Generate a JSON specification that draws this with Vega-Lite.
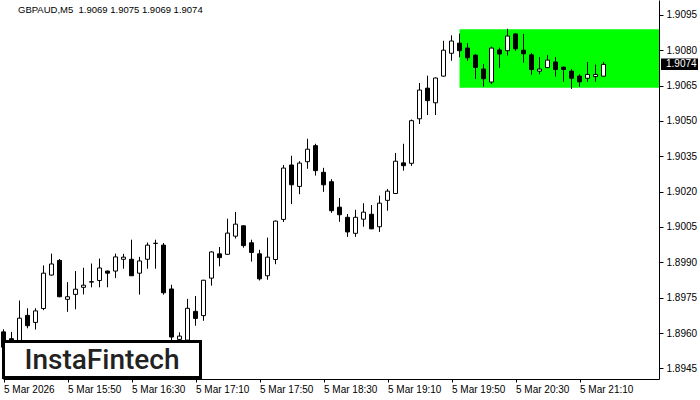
{
  "$schema": "https://vega.github.io/schema/vega-lite/v6.json",
  "width": 656,
  "height": 379,
  "autosize": {"type": "none"},
  "padding": {"left": 3, "top": 0, "right": 41, "bottom": 21},
  "background": "white",
  "config": {
    "view": {"stroke": null},
    "axis": {"labelFont": "Liberation Sans", "labelFontSize": 10, "labelColor": "#000", "domainColor": "#000", "tickColor": "#000", "grid": false, "title": null, "labelOverlap": false, "labelBound": false},
    "axisY": {"labelOverlap": false},
    "axisRight": {"labelOverlap": false}
  },
  "datasets": {
    "candles": [
      {"t": "2026-03-05T15:10:00Z", "o": 1.89605, "h": 1.89616, "l": 1.8951, "c": 1.8954},
      {"t": "2026-03-05T15:15:00Z", "o": 1.89576, "h": 1.89605, "l": 1.8955, "c": 1.89566},
      {"t": "2026-03-05T15:20:00Z", "o": 1.8955, "h": 1.89738, "l": 1.8953, "c": 1.89663},
      {"t": "2026-03-05T15:25:00Z", "o": 1.89675, "h": 1.89705, "l": 1.8962, "c": 1.89631},
      {"t": "2026-03-05T15:30:00Z", "o": 1.89645, "h": 1.89705, "l": 1.89615, "c": 1.89694},
      {"t": "2026-03-05T15:35:00Z", "o": 1.89704, "h": 1.89887, "l": 1.89697, "c": 1.89854},
      {"t": "2026-03-05T15:40:00Z", "o": 1.89846, "h": 1.89937, "l": 1.89844, "c": 1.89893},
      {"t": "2026-03-05T15:45:00Z", "o": 1.89908, "h": 1.89914, "l": 1.89752, "c": 1.89754},
      {"t": "2026-03-05T15:50:00Z", "o": 1.89743, "h": 1.89816, "l": 1.8969, "c": 1.89754},
      {"t": "2026-03-05T15:55:00Z", "o": 1.89764, "h": 1.89863, "l": 1.89701, "c": 1.89786},
      {"t": "2026-03-05T16:00:00Z", "o": 1.89794, "h": 1.89877, "l": 1.89764, "c": 1.89803},
      {"t": "2026-03-05T16:05:00Z", "o": 1.89816, "h": 1.89895, "l": 1.89794, "c": 1.89818},
      {"t": "2026-03-05T16:10:00Z", "o": 1.89823, "h": 1.89916, "l": 1.89794, "c": 1.89876},
      {"t": "2026-03-05T16:15:00Z", "o": 1.89863, "h": 1.89865, "l": 1.89794, "c": 1.89854},
      {"t": "2026-03-05T16:20:00Z", "o": 1.89863, "h": 1.89937, "l": 1.89833, "c": 1.89923},
      {"t": "2026-03-05T16:25:00Z", "o": 1.89913, "h": 1.89936, "l": 1.89873, "c": 1.89922},
      {"t": "2026-03-05T16:30:00Z", "o": 1.89913, "h": 1.89996, "l": 1.89843, "c": 1.89843},
      {"t": "2026-03-05T16:35:00Z", "o": 1.89854, "h": 1.89923, "l": 1.89763, "c": 1.89906},
      {"t": "2026-03-05T16:40:00Z", "o": 1.89913, "h": 1.89984, "l": 1.89873, "c": 1.89973},
      {"t": "2026-03-05T16:45:00Z", "o": 1.8998, "h": 1.89996, "l": 1.89873, "c": 1.89981},
      {"t": "2026-03-05T16:50:00Z", "o": 1.89973, "h": 1.89982, "l": 1.89763, "c": 1.89771},
      {"t": "2026-03-05T16:55:00Z", "o": 1.89787, "h": 1.89805, "l": 1.8955, "c": 1.89583},
      {"t": "2026-03-05T17:00:00Z", "o": 1.89573, "h": 1.89603, "l": 1.8955, "c": 1.89587},
      {"t": "2026-03-05T17:05:00Z", "o": 1.8957, "h": 1.89745, "l": 1.8954, "c": 1.89705},
      {"t": "2026-03-05T17:10:00Z", "o": 1.89692, "h": 1.89757, "l": 1.89631, "c": 1.89662},
      {"t": "2026-03-05T17:15:00Z", "o": 1.89674, "h": 1.89826, "l": 1.89652, "c": 1.89824},
      {"t": "2026-03-05T17:20:00Z", "o": 1.89833, "h": 1.89947, "l": 1.89801, "c": 1.89944},
      {"t": "2026-03-05T17:25:00Z", "o": 1.89936, "h": 1.89965, "l": 1.89883, "c": 1.8992},
      {"t": "2026-03-05T17:30:00Z", "o": 1.89934, "h": 1.90085, "l": 1.89933, "c": 1.90024},
      {"t": "2026-03-05T17:35:00Z", "o": 1.90011, "h": 1.90114, "l": 1.90001, "c": 1.90062},
      {"t": "2026-03-05T17:40:00Z", "o": 1.90055, "h": 1.90057, "l": 1.89962, "c": 1.89971},
      {"t": "2026-03-05T17:45:00Z", "o": 1.89983, "h": 1.89996, "l": 1.89903, "c": 1.89942},
      {"t": "2026-03-05T17:50:00Z", "o": 1.89936, "h": 1.89953, "l": 1.89823, "c": 1.8983},
      {"t": "2026-03-05T17:55:00Z", "o": 1.89843, "h": 1.90005, "l": 1.89826, "c": 1.89922},
      {"t": "2026-03-05T18:00:00Z", "o": 1.89912, "h": 1.90077, "l": 1.89892, "c": 1.90075},
      {"t": "2026-03-05T18:05:00Z", "o": 1.90082, "h": 1.90313, "l": 1.90071, "c": 1.903},
      {"t": "2026-03-05T18:10:00Z", "o": 1.90313, "h": 1.90352, "l": 1.90147, "c": 1.90229},
      {"t": "2026-03-05T18:15:00Z", "o": 1.90222, "h": 1.90329, "l": 1.90189, "c": 1.90321},
      {"t": "2026-03-05T18:20:00Z", "o": 1.90327, "h": 1.90424, "l": 1.90297, "c": 1.9038},
      {"t": "2026-03-05T18:25:00Z", "o": 1.90395, "h": 1.90403, "l": 1.90268, "c": 1.90289},
      {"t": "2026-03-05T18:30:00Z", "o": 1.90282, "h": 1.90301, "l": 1.90199, "c": 1.90229},
      {"t": "2026-03-05T18:35:00Z", "o": 1.90242, "h": 1.90253, "l": 1.9011, "c": 1.90119},
      {"t": "2026-03-05T18:40:00Z", "o": 1.90134, "h": 1.90173, "l": 1.90072, "c": 1.90102},
      {"t": "2026-03-05T18:45:00Z", "o": 1.90091, "h": 1.90105, "l": 1.90008, "c": 1.90029},
      {"t": "2026-03-05T18:50:00Z", "o": 1.90023, "h": 1.90123, "l": 1.90008, "c": 1.90091},
      {"t": "2026-03-05T18:55:00Z", "o": 1.90083, "h": 1.90151, "l": 1.90051, "c": 1.90113},
      {"t": "2026-03-05T19:00:00Z", "o": 1.90104, "h": 1.90143, "l": 1.90041, "c": 1.90042},
      {"t": "2026-03-05T19:05:00Z", "o": 1.90051, "h": 1.90183, "l": 1.90029, "c": 1.90151},
      {"t": "2026-03-05T19:10:00Z", "o": 1.90163, "h": 1.90211, "l": 1.90119, "c": 1.90202},
      {"t": "2026-03-05T19:15:00Z", "o": 1.90192, "h": 1.90364, "l": 1.9019, "c": 1.90329},
      {"t": "2026-03-05T19:20:00Z", "o": 1.90322, "h": 1.90403, "l": 1.90289, "c": 1.9031},
      {"t": "2026-03-05T19:25:00Z", "o": 1.9032, "h": 1.90506, "l": 1.90309, "c": 1.90501},
      {"t": "2026-03-05T19:30:00Z", "o": 1.90509, "h": 1.90661, "l": 1.90487, "c": 1.90631},
      {"t": "2026-03-05T19:35:00Z", "o": 1.90639, "h": 1.90692, "l": 1.90525, "c": 1.90586},
      {"t": "2026-03-05T19:40:00Z", "o": 1.90577, "h": 1.90684, "l": 1.90525, "c": 1.90682},
      {"t": "2026-03-05T19:45:00Z", "o": 1.9069, "h": 1.9084, "l": 1.90688, "c": 1.908},
      {"t": "2026-03-05T19:50:00Z", "o": 1.90787, "h": 1.90863, "l": 1.90755, "c": 1.90839},
      {"t": "2026-03-05T19:55:00Z", "o": 1.9083, "h": 1.9087, "l": 1.9077, "c": 1.90798},
      {"t": "2026-03-05T20:00:00Z", "o": 1.90809, "h": 1.9083, "l": 1.90755, "c": 1.90768},
      {"t": "2026-03-05T20:05:00Z", "o": 1.90779, "h": 1.90782, "l": 1.90678, "c": 1.90727},
      {"t": "2026-03-05T20:10:00Z", "o": 1.9072, "h": 1.90741, "l": 1.90645, "c": 1.90679},
      {"t": "2026-03-05T20:15:00Z", "o": 1.90665, "h": 1.90815, "l": 1.90656, "c": 1.90809},
      {"t": "2026-03-05T20:20:00Z", "o": 1.90801, "h": 1.90811, "l": 1.90725, "c": 1.90784},
      {"t": "2026-03-05T20:25:00Z", "o": 1.90798, "h": 1.90891, "l": 1.90777, "c": 1.9086},
      {"t": "2026-03-05T20:30:00Z", "o": 1.90869, "h": 1.90871, "l": 1.90797, "c": 1.90806},
      {"t": "2026-03-05T20:35:00Z", "o": 1.908, "h": 1.90869, "l": 1.90747, "c": 1.90785},
      {"t": "2026-03-05T20:40:00Z", "o": 1.9078, "h": 1.90788, "l": 1.90696, "c": 1.90718},
      {"t": "2026-03-05T20:45:00Z", "o": 1.90711, "h": 1.90771, "l": 1.90698, "c": 1.9072},
      {"t": "2026-03-05T20:50:00Z", "o": 1.90726, "h": 1.9078, "l": 1.90725, "c": 1.90758},
      {"t": "2026-03-05T20:55:00Z", "o": 1.9075, "h": 1.90771, "l": 1.90688, "c": 1.90718},
      {"t": "2026-03-05T21:00:00Z", "o": 1.90728, "h": 1.9073, "l": 1.90666, "c": 1.90718},
      {"t": "2026-03-05T21:05:00Z", "o": 1.90711, "h": 1.9072, "l": 1.90636, "c": 1.90681},
      {"t": "2026-03-05T21:10:00Z", "o": 1.9069, "h": 1.90698, "l": 1.90645, "c": 1.90666},
      {"t": "2026-03-05T21:15:00Z", "o": 1.90681, "h": 1.9075, "l": 1.90666, "c": 1.90697},
      {"t": "2026-03-05T21:20:00Z", "o": 1.90688, "h": 1.90739, "l": 1.90666, "c": 1.90697},
      {"t": "2026-03-05T21:25:00Z", "o": 1.9069, "h": 1.9075, "l": 1.9069, "c": 1.9074}
    ]
  },
  "layer": [
    {
      "data": {"values": [{"x1": "2026-03-05T19:55:00Z", "x2": "2026-03-05T21:59:41Z", "y1": 1.90641, "y2": 1.90889}]},
      "mark": {"type": "rect", "color": "#00ff00"},
      "encoding": {
        "x": {
          "field": "x1", "type": "temporal",
          "scale": {"type": "utc", "padding": 0, "domain": [
            {"year": 2026, "month": 3, "date": 5, "hours": 15, "minutes": 9, "seconds": 41, "utc": true},
            {"year": 2026, "month": 3, "date": 5, "hours": 21, "minutes": 59, "seconds": 41, "utc": true}
          ]},
          "axis": {
            "orient": "bottom",
            "values": [
              {"year": 2026, "month": 3, "date": 5, "hours": 15, "minutes": 10, "utc": true},
              {"year": 2026, "month": 3, "date": 5, "hours": 15, "minutes": 50, "utc": true},
              {"year": 2026, "month": 3, "date": 5, "hours": 16, "minutes": 30, "utc": true},
              {"year": 2026, "month": 3, "date": 5, "hours": 17, "minutes": 10, "utc": true},
              {"year": 2026, "month": 3, "date": 5, "hours": 17, "minutes": 50, "utc": true},
              {"year": 2026, "month": 3, "date": 5, "hours": 18, "minutes": 30, "utc": true},
              {"year": 2026, "month": 3, "date": 5, "hours": 19, "minutes": 10, "utc": true},
              {"year": 2026, "month": 3, "date": 5, "hours": 19, "minutes": 50, "utc": true},
              {"year": 2026, "month": 3, "date": 5, "hours": 20, "minutes": 30, "utc": true},
              {"year": 2026, "month": 3, "date": 5, "hours": 21, "minutes": 10, "utc": true}
            ],
            "labelExpr": "datum.index == 0 ? '5 Mar 2026' : utcFormat(datum.value, '%-d %b %H:%M')",
            "labelAlign": "left",
            "labelBaseline": "top",
            "tickSize": 3,
            "labelPadding": 2,
            "labelOverlap": false,
            "labelFlush": false
          }
        },
        "x2": {"field": "x2"},
        "y": {
          "field": "y1", "type": "quantitative",
          "scale": {"domain": [1.89405, 1.91013], "zero": false, "nice": false, "padding": 0},
          "axis": {
            "orient": "right",
            "values": [1.8945, 1.896, 1.8975, 1.899, 1.9005, 1.902, 1.9035, 1.905, 1.9065, 1.908, 1.9095],
            "labelExpr": "format(datum.value, '.4f')",
            "tickSize": 4,
            "labelPadding": 3,
            "labelBaseline": "middle",
            "labelOverlap": false,
            "labelFlush": false,
            "tickCount": 11
          }
        },
        "y2": {"field": "y2"}
      }
    },
    {
      "data": {"name": "candles"},
      "mark": {"type": "rule", "color": "#000", "strokeWidth": 1},
      "encoding": {
        "x": {"field": "t", "type": "temporal"},
        "y": {"field": "l", "type": "quantitative"},
        "y2": {"field": "h"}
      }
    },
    {
      "data": {"name": "candles"},
      "mark": {"type": "bar", "size": 4, "stroke": "#000", "strokeWidth": 1},
      "encoding": {
        "x": {"field": "t", "type": "temporal"},
        "y": {"field": "o", "type": "quantitative"},
        "y2": {"field": "c"},
        "fill": {"condition": {"test": "datum.o > datum.c", "value": "#000"}, "value": "#fff"}
      }
    },
    {
      "mark": {"type": "rule", "color": "#000", "strokeWidth": 1},
      "encoding": {"y": {"datum": 1.9074, "type": "quantitative"}}
    },
    {
      "mark": {"type": "rule", "color": "#000", "strokeWidth": 1},
      "encoding": {"x": {"datum": {"year": 2026, "month": 3, "date": 5, "hours": 15, "minutes": 9, "seconds": 41, "utc": true}, "type": "temporal"}}
    },
    {
      "data": {"values": [{"x1": "2026-03-05T15:10:00Z", "x2": "2026-03-05T17:13:07Z", "y1": 1.89411, "y2": 1.89564}]},
      "mark": {"type": "rect", "fill": "#fff", "stroke": "#000", "strokeWidth": 3},
      "encoding": {
        "x": {"field": "x1", "type": "temporal"},
        "x2": {"field": "x2"},
        "y": {"field": "y1", "type": "quantitative"},
        "y2": {"field": "y2"}
      }
    },
    {
      "data": {"values": [{"x": "2026-03-05T16:11:34Z", "y": 1.89447, "label": "InstaFintech"}]},
      "mark": {"type": "text", "font": "Roboto", "fontSize": 28, "fontWeight": 500, "color": "#222222", "align": "center", "baseline": "alphabetic"},
      "encoding": {
        "x": {"field": "x", "type": "temporal"},
        "y": {"field": "y", "type": "quantitative"},
        "text": {"field": "label"}
      }
    },
    {
      "data": {"values": [{"x": "2026-03-05T15:09:41Z", "y": 1.91013, "label": "GBPAUD,M5\u00a0 1.9069 1.9075 1.9069 1.9074"}]},
      "mark": {"type": "text", "font": "Liberation Sans", "fontSize": 9.5, "color": "#000", "align": "left", "baseline": "top", "dx": 15, "dy": 5},
      "encoding": {
        "x": {"field": "x", "type": "temporal"},
        "y": {"field": "y", "type": "quantitative"},
        "text": {"field": "label"}
      }
    },
    {
      "data": {"values": [{"x": "2026-03-05T21:59:41Z", "y1": 1.90716, "y2": 1.90765}]},
      "mark": {"type": "rect", "color": "#000", "xOffset": 2, "x2Offset": 39},
      "encoding": {
        "x": {"field": "x", "type": "temporal"},
        "x2": {"field": "x"},
        "y": {"field": "y1", "type": "quantitative"},
        "y2": {"field": "y2"}
      }
    },
    {
      "data": {"values": [{"x": "2026-03-05T21:59:41Z", "y": 1.9074, "label": "1.9074"}]},
      "mark": {"type": "text", "font": "Liberation Sans", "fontSize": 10, "color": "#fff", "align": "left", "baseline": "middle", "dx": 7},
      "encoding": {
        "x": {"field": "x", "type": "temporal"},
        "y": {"field": "y", "type": "quantitative"},
        "text": {"field": "label"}
      }
    }
  ]
}
